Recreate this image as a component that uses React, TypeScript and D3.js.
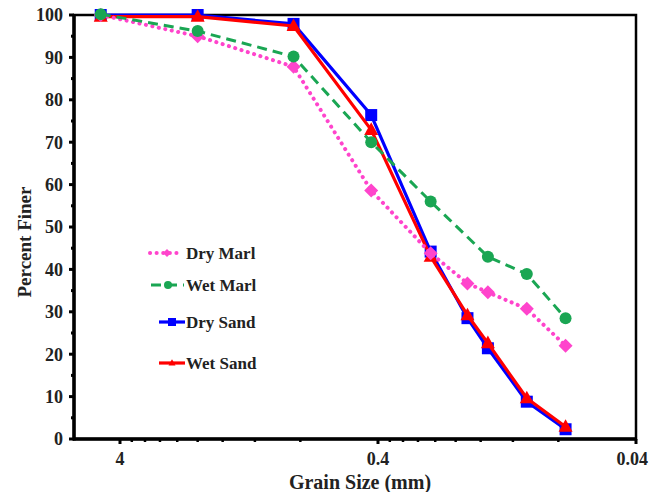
// Grain size distribution chart: percent finer vs grain size (log axis, reversed)

import React, { useEffect, useRef } from "react"
import * as d3 from "d3"

const seriesNames = ["Dry Sand", "Wet Sand", "Dry Marl", "Wet Marl"]

const sandSizes = [4.75, 2.0, 0.85, 0.425, 0.25, 0.18, 0.15, 0.106, 0.075]
const marlSizes = [4.75, 2.0, 0.85, 0.425, 0.25, 0.18, 0.15, 0.106, 0.075]
const wetMarlSizes = [4.75, 2.0, 0.85, 0.425, 0.25, 0.15, 0.106, 0.075]

const drySand = [100, 100, 97.9, 76.4, 44.2, 28.5, 21.4, 8.8, 2.3]
const wetSand = [99.6, 99.6, 97.4, 72.9, 43.0, 29.2, 22.6, 9.6, 2.9]
const dryMarl = [100, 95.0, 87.8, 58.6, 43.8, 36.7, 34.6, 30.7, 22.0]
const wetMarl = [100.2, 96.2, 90.2, 70.0, 56.0, 43.0, 38.9, 28.5]

const xTicks = [4, 0.4, 0.04]
const xTickLabels = ["4", "0.4", "0.04"]
const yTicks = [0, 10, 20, 30, 40, 50, 60, 70, 80, 90, 100]

const styles: Record<string, { color: string; dash: string; width: number; marker: string }> = {
  "Dry Marl": { color: "#ff44cc", dash: "0.1 6.5", width: 4, marker: "diamond" },
  "Wet Marl": { color: "#1aa653", dash: "10 6", width: 3, marker: "circle" },
  "Dry Sand": { color: "#0000ff", dash: "", width: 3.2, marker: "square" },
  "Wet Sand": { color: "#ff0000", dash: "", width: 3.2, marker: "triangle" },
}

// marker path of a given overall width w
function markerPath(m: string, w: number) {
  const h = w / 2
  if (m === "diamond") return `M0,${-h}L${h},0L0,${h}L${-h},0Z`
  if (m === "circle") return d3.symbol().type(d3.symbolCircle).size(Math.PI * h * h)()
  if (m === "square") return `M${-h},${-h}H${h}V${h}H${-h}Z`
  const th = w * 0.9
  return `M0,${-th * 0.6}L${h},${th * 0.4}L${-h},${th * 0.4}Z`
}

const FONT = "'Liberation Serif', 'Times New Roman', serif"

function App() {
  const ref = useRef<SVGSVGElement>(null)

  useEffect(() => {
    const data: Record<string, { x: number; y: number }[]> = {
      "Dry Sand": sandSizes.map((x, i) => ({ x, y: drySand[i] })),
      "Wet Sand": sandSizes.map((x, i) => ({ x, y: wetSand[i] })),
      "Dry Marl": marlSizes.map((x, i) => ({ x, y: dryMarl[i] })),
      "Wet Marl": wetMarlSizes.map((x, i) => ({ x, y: wetMarl[i] })),
    }

    const svg = d3.select(ref.current)
    svg.selectAll("*").remove()

    const left = 74, right = 636, top = 15, bottom = 439

    const x = d3.scaleLog().domain([6.03, 0.04]).range([left, right])
    const y = d3.scaleLinear().domain([0, 100]).range([bottom, top])

    const g = svg.append("g")

    // plot frame (top / right)
    g.append("rect")
      .attr("x", left).attr("y", top)
      .attr("width", right - left).attr("height", bottom - top)
      .attr("fill", "none").attr("stroke", "#000").attr("stroke-width", 2.5)

    // y ticks: minor every 5, major every 10
    d3.range(0, 101, 5).forEach(v => {
      const major = v % 10 === 0
      g.append("line")
        .attr("x1", left).attr("x2", left - (major ? 5 : 3))
        .attr("y1", y(v)).attr("y2", y(v))
        .attr("stroke", "#000").attr("stroke-width", 3)
    })
    g.selectAll(".ylab").data(yTicks).enter().append("text")
      .attr("x", 63).attr("y", d => y(d)).attr("dy", "0.35em")
      .attr("text-anchor", "end")
      .attr("font-family", FONT).attr("font-weight", "bold").attr("font-size", 18)
      .attr("fill", "#222")
      .text(d => d)

    // x ticks: log minor ticks at multiples of 0.4 / 0.04
    const minor: number[] = []
    ;[0.04, 0.4].forEach(base => {
      for (let k = 2; k <= 9; k++) minor.push(base * k)
    })
    minor.forEach(v => {
      g.append("line")
        .attr("x1", x(v)).attr("x2", x(v))
        .attr("y1", bottom).attr("y2", bottom + 3)
        .attr("stroke", "#000").attr("stroke-width", 2.5)
    })
    xTicks.forEach(v => {
      g.append("line")
        .attr("x1", x(v)).attr("x2", x(v))
        .attr("y1", bottom).attr("y2", bottom + 5)
        .attr("stroke", "#000").attr("stroke-width", 3)
    })
    // the last label would overflow the page, so it is end-anchored at the edge
    g.selectAll(".xlab").data(xTicks).enter().append("text")
      .attr("x", (d, i) => (i === xTicks.length - 1 ? 648 : x(d))).attr("y", 465)
      .attr("text-anchor", (d, i) => (i === xTicks.length - 1 ? "end" : "middle"))
      .attr("font-family", FONT).attr("font-weight", "bold").attr("font-size", 18)
      .attr("fill", "#222")
      .text((d, i) => xTickLabels[i])

    // axis lines
    g.append("line").attr("x1", left).attr("x2", left).attr("y1", top - 1).attr("y2", bottom + 1.5)
      .attr("stroke", "#000").attr("stroke-width", 3.5)
    g.append("line").attr("x1", left - 1).attr("x2", right + 1).attr("y1", bottom).attr("y2", bottom)
      .attr("stroke", "#000").attr("stroke-width", 3.5)

    // axis titles
    g.append("text")
      .attr("x", 360).attr("y", 489)
      .attr("text-anchor", "middle")
      .attr("font-family", FONT).attr("font-weight", "bold").attr("font-size", 20)
      .attr("fill", "#222")
      .text("Grain Size (mm)")
    g.append("text")
      .attr("transform", `translate(31,242) rotate(-90)`)
      .attr("text-anchor", "middle")
      .attr("font-family", FONT).attr("font-weight", "bold").attr("font-size", 19)
      .attr("fill", "#222")
      .text("Percent Finer")

    // series
    const line = d3.line<{ x: number; y: number }>().x(d => x(d.x)).y(d => y(d.y))
    seriesNames.forEach(name => {
      const s = styles[name]
      g.append("path")
        .datum(data[name])
        .attr("d", line)
        .attr("fill", "none")
        .attr("stroke", s.color)
        .attr("stroke-width", s.width)
        .attr("stroke-dasharray", s.dash)
        .attr("stroke-linecap", s.dash.startsWith("0.1") ? "round" : "butt")
        .attr("stroke-linejoin", "round")
      const w = s.marker === "diamond" ? 14 : s.marker === "triangle" ? 14 : 12
      g.selectAll(null).data(data[name]).enter().append("path")
        .attr("transform", d => `translate(${x(d.x)},${y(d.y)})`)
        .attr("d", markerPath(s.marker, w))
        .attr("fill", s.color)
    })

    // legend
    const legendItems = [
      { name: "Dry Marl", y: 253, x1: 150, x2: 181, mx: 167 },
      { name: "Wet Marl", y: 285, x1: 151, x2: 184, mx: 168 },
      { name: "Dry Sand", y: 322, x1: 159, x2: 185, mx: 172 },
      { name: "Wet Sand", y: 363, x1: 159, x2: 185, mx: 172 },
    ]
    legendItems.forEach(it => {
      const s = styles[it.name]
      g.append("line")
        .attr("x1", it.x1).attr("x2", it.x2).attr("y1", it.y).attr("y2", it.y)
        .attr("stroke", s.color).attr("stroke-width", s.width)
        .attr("stroke-dasharray", s.dash)
        .attr("stroke-linecap", s.dash.startsWith("0.1") ? "round" : "butt")
      g.append("path")
        .attr("transform", `translate(${it.mx},${it.y})`)
        .attr("d", markerPath(s.marker, s.marker === "triangle" ? 7 : 8))
        .attr("fill", s.color)
      g.append("text")
        .attr("x", 186).attr("y", it.y).attr("dy", "0.35em")
        .attr("font-family", FONT).attr("font-weight", "bold").attr("font-size", 17)
        .attr("fill", "#222")
        .text(it.name)
    })
  }, [])

  return (
    <svg ref={ref} width={650} height={492} style={{ position: "absolute", left: 0, top: 0, background: "#fff" }}></svg>
  )
}

export default App
